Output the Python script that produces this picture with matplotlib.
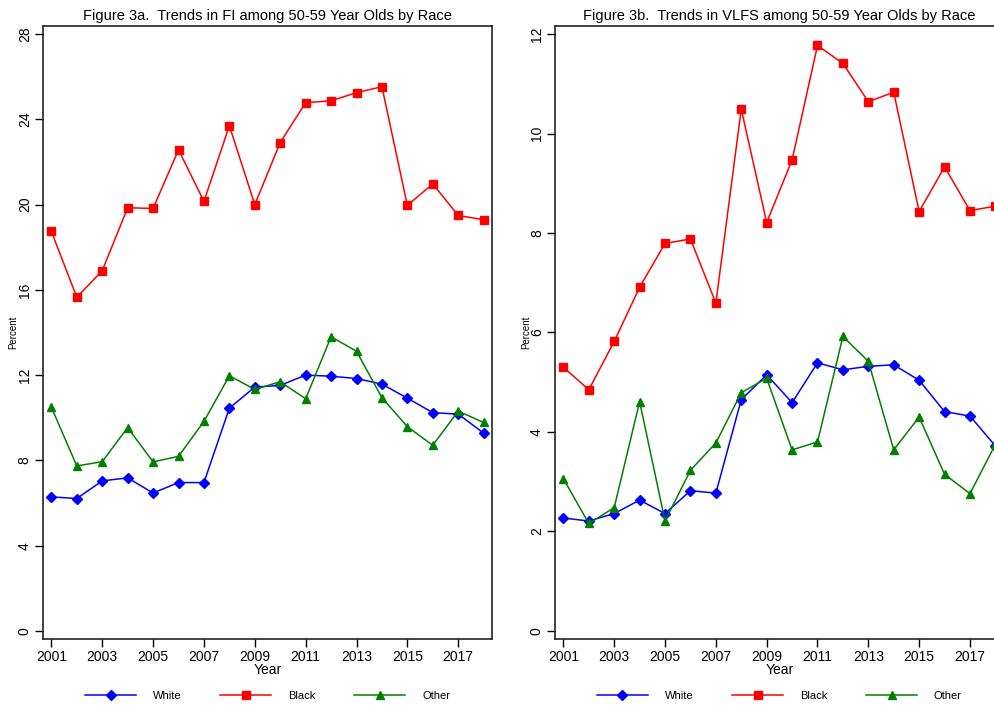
import matplotlib
matplotlib.use("Agg")
import matplotlib.pyplot as plt

plt.rcParams['font.family'] = ['Liberation Sans', 'DejaVu Sans']

# Survey years
years = list(range(2001, 2019))

# Figure 3a: food insecurity (percent) among 50-59 year olds
fi_white = [6.29, 6.21, 7.04, 7.18, 6.47, 6.96, 6.96, 10.45, 11.44, 11.52,
            12.0, 11.95, 11.84, 11.58, 10.92, 10.24, 10.17, 9.28]
fi_black = [18.74, 15.65, 16.9, 19.85, 19.82, 22.57, 20.15, 23.7, 20.0, 22.91,
            24.78, 24.87, 25.25, 25.53, 19.96, 20.97, 19.49, 19.29]
fi_other = [10.49, 7.74, 7.94, 9.54, 7.93, 8.19, 9.83, 11.97, 11.33, 11.69,
            10.89, 13.8, 13.12, 10.94, 9.58, 8.71, 10.31, 9.78]

# Figure 3b: very low food security (percent)
vlfs_white = [2.27, 2.21, 2.36, 2.63, 2.36, 2.82, 2.77, 4.65, 5.15, 4.59,
              5.39, 5.25, 5.32, 5.35, 5.04, 4.41, 4.32, 3.72]
vlfs_black = [5.30, 4.85, 5.82, 6.91, 7.79, 7.88, 6.59, 10.49, 8.21, 9.47,
              11.77, 11.41, 10.64, 10.83, 8.43, 9.33, 8.45, 8.54]
vlfs_other = [3.06, 2.16, 2.48, 4.61, 2.21, 3.23, 3.78, 4.79, 5.08, 3.64,
              3.80, 5.92, 5.42, 3.64, 4.30, 3.15, 2.76, 3.75]

x_ticks = list(range(2001, 2018, 2))
fi_ticks = list(range(0, 29, 4))
vlfs_ticks = list(range(0, 13, 2))

fig = plt.figure(figsize=(9.95, 7.06), dpi=100)
ax1 = fig.add_axes([0.0432, 0.0949, 0.4513, 0.8683])
ax2 = fig.add_axes([0.5578, 0.0949, 0.4510, 0.8683])


def draw_panel(ax, white, black, other, yticks, ymax, title):
    ax.plot(years, white, color='blue', marker='D', markersize=5.5, lw=1.1, label='White')
    ax.plot(years, black, color='red', marker='s', markersize=5.5, lw=1.1, label='Black')
    ax.plot(years, other, color='green', marker='^', markersize=6, lw=1.1, label='Other')

    ax.set_xlim(2000.67, 2018.33)
    pad = ymax * 0.0135
    ax.set_ylim(-pad, ymax + pad)
    ax.set_xticks(x_ticks)
    ax.set_yticks(yticks)
    ax.tick_params(axis='both', direction='out', length=6, width=1, labelsize=10,
                   colors='black', pad=2)
    for lbl in ax.get_yticklabels():
        lbl.set_rotation(90)
        lbl.set_va('center')
    for sp in ax.spines.values():
        sp.set_linewidth(1.2)
        sp.set_color('#222222')

    ax.set_xlabel('Year', fontsize=10, labelpad=-1)
    ax.set_ylabel('Percent', fontsize=7)
    ax.yaxis.set_label_coords(-0.054, 0.5)
    ax.set_title(title, fontsize=10.5, pad=4)
    ax.legend(loc='center', bbox_to_anchor=(0.5, -0.093), ncol=3, frameon=False,
              fontsize=8, handlelength=4.6, handletextpad=1.5, columnspacing=3.5)


draw_panel(ax1, fi_white, fi_black, fi_other, fi_ticks, 28,
           'Figure 3a.  Trends in FI among 50-59 Year Olds by Race')
draw_panel(ax2, vlfs_white, vlfs_black, vlfs_other, vlfs_ticks, 12,
           'Figure 3b.  Trends in VLFS among 50-59 Year Olds by Race')

fig.savefig('out.png', dpi=100)
